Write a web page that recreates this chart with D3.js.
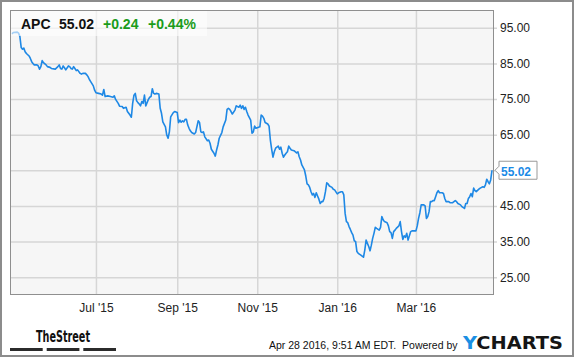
<!DOCTYPE html>
<html>
<head>
<meta charset="utf-8">
<script src="https://cdn.jsdelivr.net/npm/d3@7"></script>
<style>
  body { margin: 0; background: #fff; }
  svg { display: block; font-family: "Liberation Sans", Arial, sans-serif; }
</style>
</head>
<body>
<svg width="575" height="358"></svg>
<script>
// APC daily closes, one year to Apr 28 2016
const startDate = new Date(2015, 3, 28)
const endDate = new Date(2016, 3, 28)
// days since Apr 28 2015
const dayIndex = [
  0,1,4,5,6,7,8,9,10,11,13,14,15,16,17,19,20,21,22,23,24,26,27,29,30,33,35,36,37,38,
  39,40,41,43,44,45,46,47,49,50,52,53,54,56,57,58,59,60,62,63,64,66,68,69,70,71,73,75,77,78,
  79,81,82,84,85,87,88,90,91,92,93,94,95,96,97,98,99,100,101,102,103,104,105,106,107,108,109,110,112,113,
  114,115,117,118,119,120,121,123,124,126,127,128,129,130,131,132,133,134,135,136,137,139,140,142,143,144,145,146,147,149,
  150,151,152,154,155,156,157,158,160,161,163,164,165,166,167,168,170,171,173,174,175,176,177,178,179,180,182,183,184,185,
  186,188,189,190,191,192,193,195,196,197,198,199,200,201,203,204,205,206,207,208,209,210,211,212,213,215,217,218,219,220,
  221,223,224,225,226,227,228,229,230,231,232,233,234,235,236,237,238,239,240,241,242,244,245,246,248,249,251,252,253,254,
  255,256,257,258,259,260,261,262,263,264,266,268,269,270,271,272,273,274,275,276,277,278,280,281,282,283,284,286,287,288,
  289,290,291,292,293,295,296,297,298,299,300,301,302,303,304,305,307,308,309,310,311,312,314,315,316,317,318,319,320,321,
  322,323,324,325,326,328,329,330,331,333,334,336,337,338,339,340,342,343,345,346,347,348,349,350,351,352,353,354,356,357,
  359,360,361,362,363,364,365,366
]
const closes = [
  93.3,93.7,93.8,93.5,92.6,89.5,89.0,89.3,88.3,87.8,87.1,86.4,85.5,85.0,84.6,84.6,84.3,83.4,84.1,85.8,85.2,84.6,84.1,83.9,83.6,83.4,84.1,84.6,83.6,83.4,
  84.3,83.8,83.2,84.3,84.1,83.6,83.4,84.1,83.0,83.2,82.2,82.0,82.2,82.2,81.8,81.3,80.5,79.9,78.7,77.5,76.8,76.6,76.4,76.1,77.7,75.7,75.9,75.7,75.5,75.9,
  74.9,73.8,73.0,72.9,72.4,72.7,71.5,70.5,69.9,73.8,76.1,76.6,74.5,74.0,73.6,73.1,74.3,73.8,76.1,73.1,74.0,74.9,75.5,75.7,77.9,76.6,76.4,76.6,76.4,72.4,
  71.0,68.6,67.2,64.9,64.0,65.8,70.0,71.2,71.5,71.2,68.4,69.1,68.5,68.9,68.6,69.3,69.3,67.7,66.8,66.1,65.6,65.2,65.6,68.9,68.4,65.8,65.6,65.8,64.4,63.3,
  63.5,62.6,60.9,59.8,59.0,60.7,62.1,64.0,65.6,67.2,69.1,72.1,72.4,72.1,71.5,70.8,71.9,73.1,72.7,73.3,72.4,73.1,72.1,72.7,71.5,70.5,69.1,65.4,65.8,67.4,
  66.8,67.1,67.2,70.5,70.2,69.6,68.4,68.0,67.4,63.5,60.9,58.7,60.2,61.2,61.8,60.9,61.5,59.8,58.7,59.3,59.8,60.2,61.8,61.2,60.7,60.5,59.9,60.2,58.8,57.9,
  56.5,55.1,53.4,51.2,50.9,50.2,49.0,48.1,48.5,47.4,48.7,47.8,46.9,45.7,46.2,46.2,47.1,49.0,51.5,51.2,50.6,50.2,49.7,49.5,48.4,48.7,49.0,49.0,48.1,42.9,
  40.6,40.3,39.2,38.4,37.5,36.8,35.2,35.0,32.2,31.7,31.2,30.6,32.6,35.4,34.5,33.6,32.4,34.0,35.9,37.3,39.0,38.7,38.2,39.0,42.0,41.1,40.6,40.3,39.4,37.8,
  37.5,35.9,37.8,38.2,38.7,39.4,40.6,37.8,35.6,36.6,36.2,37.3,35.4,36.6,37.8,38.0,38.0,38.0,39.4,41.5,43.1,45.3,45.3,45.0,41.5,42.0,43.4,46.2,46.2,46.5,
  46.5,47.6,48.7,49.3,48.7,48.7,48.5,47.1,46.2,46.2,45.9,45.9,46.2,46.5,46.2,45.7,45.3,44.8,44.3,45.7,45.7,47.1,47.6,48.5,47.6,50.0,49.3,49.0,49.7,50.0,
  50.4,50.2,50.9,52.5,51.8,51.2,52.3,55.02
]
const monthTicks = [new Date(2015, 6, 1), new Date(2015, 8, 1), new Date(2015, 10, 1), new Date(2016, 0, 1), new Date(2016, 2, 1)]
const priceTicks = [25, 35, 45, 55, 65, 75, 85, 95]
const symbol = 'APC'
const lastPrice = 55.02
const change = 0.24
const changePct = 0.44
const stampText = 'Apr 28 2016, 9:51 AM EDT.  Powered by'

const svg = d3.select('svg')
const plot = {left: 10, top: 10, right: 494, bottom: 295}
const blue = '#1e88e5'

const x = d3.scaleTime().domain([startDate, endDate]).range([12, 492])
const y = d3.scaleLinear().domain([20, 100]).range([plot.bottom, plot.top])

const data = dayIndex.map((d, i) => ({date: d3.timeDay.offset(startDate, d), value: closes[i]}))

// outer frame
svg.append('rect')
  .attr('x', 1).attr('y', 1).attr('width', 572).attr('height', 355)
  .attr('fill', '#fff').attr('stroke', '#8c8c8c').attr('stroke-width', 2)

// plot background
svg.append('rect')
  .attr('x', plot.left).attr('y', plot.top)
  .attr('width', plot.right - plot.left).attr('height', plot.bottom - plot.top)
  .attr('fill', '#f6f6f6')

// grid lines
const gridY = svg.append('g')
  .attr('transform', 'translate(' + (plot.right + 3) + ',0)')
  .call(d3.axisRight(y).tickValues(priceTicks).tickSize(-(plot.right + 3 - plot.left)).tickFormat(''))
const gridX = svg.append('g')
  .attr('transform', 'translate(0,' + plot.bottom + ')')
  .call(d3.axisBottom(x).tickValues(monthTicks).tickSize(-(plot.bottom - plot.top)).tickFormat(''))
svg.selectAll('.domain').remove()
svg.selectAll('.tick line').attr('stroke', '#d6d6d6').attr('stroke-width', 1.5)

// plot border
svg.append('rect')
  .attr('x', plot.left + 0.5).attr('y', plot.top + 0.5)
  .attr('width', plot.right - plot.left - 1).attr('height', plot.bottom - plot.top - 1)
  .attr('fill', 'none').attr('stroke', '#8f8f8f').attr('stroke-width', 1)

// axis labels
const yLabels = svg.append('g')
  .attr('transform', 'translate(' + plot.right + ',0)')
  .call(d3.axisRight(y).tickValues(priceTicks).tickSize(0).tickPadding(6).tickFormat(d3.format('.2f')))
const xLabels = svg.append('g')
  .attr('transform', 'translate(0,' + plot.bottom + ')')
  .call(d3.axisBottom(x).tickValues(monthTicks).tickSize(0).tickPadding(8).tickFormat(d3.timeFormat("%b '%y")))
yLabels.select('.domain').remove()
xLabels.select('.domain').remove()
svg.selectAll('.tick text')
  .attr('font-family', '"Liberation Sans", Arial, sans-serif')
  .attr('font-size', 12).attr('fill', '#222')

// price line
const line = d3.line().x(d => x(d.date)).y(d => y(d.value))
svg.append('path')
  .datum(data)
  .attr('d', line)
  .attr('fill', 'none')
  .attr('stroke', blue)
  .attr('stroke-width', 1.6)
  .attr('stroke-linejoin', 'round')

// header box over the plot
svg.append('rect')
  .attr('x', plot.left + 1).attr('y', plot.top + 1).attr('width', 196).attr('height', 25)
  .attr('fill', '#fff').attr('opacity', 0.6)
const head = svg.append('text')
  .attr('y', 28.5).attr('font-size', 14).attr('font-weight', 'bold')
head.append('tspan').attr('x', 21).attr('fill', '#111').text(symbol)
head.append('tspan').attr('x', 59).attr('fill', '#111').text(lastPrice.toFixed(2))
head.append('tspan').attr('x', 103).attr('fill', '#1a9c1a').text('+' + change.toFixed(2))
head.append('tspan').attr('x', 148).attr('fill', '#1a9c1a').text('+' + changePct.toFixed(2) + '%')

// last price flag
const ly = y(lastPrice)
svg.append('path')
  .attr('d', 'M' + (plot.right + 1) + ',' + ly + 'L499,' + (ly - 4) + 'L499,' + (ly - 9) +
    'L537,' + (ly - 9) + 'L537,' + (ly + 9) + 'L499,' + (ly + 9) + 'L499,' + (ly + 4) + 'Z')
  .attr('fill', '#fff').attr('stroke', '#999').attr('stroke-width', 1)
svg.append('text')
  .attr('x', 501).attr('y', ly + 5.5)
  .attr('font-size', 12).attr('font-weight', 'bold').attr('fill', '#1a8ae6')
  .text(lastPrice.toFixed(2))

// footer: TheStreet logo
svg.append('text')
  .attr('x', 36).attr('y', 341.5)
  .attr('font-family', '"Liberation Sans Narrow", "DejaVu Sans Condensed", sans-serif')
  .attr('font-size', 15).attr('font-weight', 'bold').attr('fill', '#111')
  .attr('textLength', 54).attr('lengthAdjust', 'spacingAndGlyphs')
  .text('TheStreet')
svg.selectAll('.bar-logo')
  .data([10, 46.7, 83.3])
  .enter().append('rect')
  .attr('class', 'bar-logo')
  .attr('x', d => d).attr('y', 348).attr('width', 32.7).attr('height', 3)
  .attr('fill', '#2b2b2b')

// footer: time stamp and YCHARTS
svg.append('text')
  .attr('x', 269).attr('y', 348.5)
  .attr('font-size', 10.5).attr('fill', '#111')
  .attr('xml:space', 'preserve')
  .text(stampText)
const yc = svg.append('text')
  .attr('x', 463).attr('y', 348.5)
  .attr('font-family', '"DejaVu Sans", sans-serif')
  .attr('font-size', 18).attr('font-weight', 'bold')
  .attr('textLength', 100).attr('lengthAdjust', 'spacingAndGlyphs')
yc.append('tspan').attr('fill', '#1a8fe3').text('Y')
yc.append('tspan').attr('fill', '#151515').text('CHARTS')
</script>
</body>
</html>
